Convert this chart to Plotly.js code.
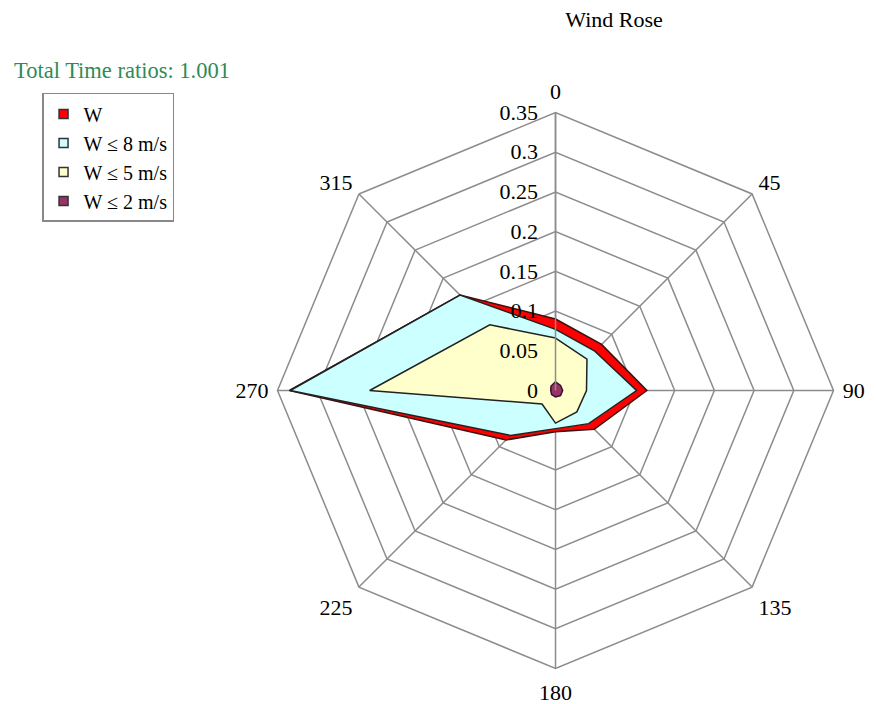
<!DOCTYPE html>
<html>
<head>
<meta charset="utf-8">
<script src="https://cdn.plot.ly/plotly-3.0.1.min.js"></script>
<style>html,body{margin:0;padding:0;background:#fff;}#chart{width:876px;height:704px;}</style>
</head>
<body>
<div id="chart"></div>
<script>
const directions = ['0', '45', '90', '135', '180', '225', '270', '315'];
const radialTicks = [0, 0.05, 0.1, 0.15, 0.2, 0.25, 0.3, 0.35];
const seriesNames = ['W', 'W ≤ 8 m/s', 'W ≤ 5 m/s', 'W ≤ 2 m/s'];
const wAll = [0.090, 0.082, 0.115, 0.069, 0.052, 0.088, 0.335, 0.170];
const wLe8 = [0.077, 0.070, 0.102, 0.059, 0.048, 0.080, 0.334, 0.170];
const wLe5 = [0.066, 0.056, 0.039, 0.038, 0.041, 0.024, 0.234, 0.117];
const wLe2 = [0.011, 0.009, 0.009, 0.009, 0.008, 0.007, 0.006, 0.008];
const totalRatio = '1.001';

const fills = ['#ff0000', '#ccffff', '#ffffcc', '#993366'];
const outlines = ['#3a1010', '#222222', '#222222', '#3a1030'];
const serif = 'Liberation Serif, Times New Roman, serif';

const values = [wAll, wLe8, wLe5, wLe2];
const closed = a => a.concat([a[0]]);
const thetaClosed = closed(directions);

const traces = [];
values.forEach((v, i) => {
  traces.push({
    type: 'scatterpolar', mode: 'lines', r: closed(v), theta: thetaClosed,
    fill: 'toself', fillcolor: fills[i],
    line: {color: outlines[i], width: 1.5},
    name: seriesNames[i], showlegend: false, hoverinfo: 'skip'
  });
});
seriesNames.forEach((n, i) => {
  traces.push({
    type: 'scatterpolar', mode: 'markers', r: [null], theta: [null],
    name: n, showlegend: true,
    marker: {symbol: 'square', size: 9, color: fills[i], line: {color: '#333', width: 1.5}}
  });
});

const layout = {
  width: 876, height: 704,
  margin: {l: 0, r: 0, t: 0, b: 0},
  paper_bgcolor: '#fff',
  font: {family: serif, size: 22, color: '#000'},
  title: {text: 'Wind Rose', font: {family: serif, size: 22, color: '#000'}, x: 0.701, xanchor: 'center', y: 0.972, yanchor: 'middle'},
  showlegend: true,
  legend: {
    x: 0.048, xanchor: 'left', y: 0.868, yanchor: 'top',
    bgcolor: '#fff', bordercolor: '#888', borderwidth: 1.5,
    font: {family: serif, size: 20, color: '#000'},
    itemwidth: 30, tracegroupgap: 0
  },
  annotations: [{
    text: 'Total Time ratios: ' + totalRatio, xref: 'paper', yref: 'paper',
    x: 0.014, xanchor: 'left', y: 0.9, yanchor: 'middle', showarrow: false,
    font: {family: serif, size: 22.5, color: '#2e8b57'}
  }],
  polar: {
    domain: {x: [0.3168, 0.9515], y: [0.0504, 0.8402]},
    gridshape: 'linear', bgcolor: '#fff',
    radialaxis: {
      range: [0, 0.35], tickvals: radialTicks, angle: 90, tickangle: 90,
      side: 'counterclockwise', showline: true, linecolor: '#8c8c8c', linewidth: 1.5,
      gridcolor: '#8c8c8c', gridwidth: 1.5, ticks: 'outside', ticklen: 9, tickcolor: 'rgba(0,0,0,0)',
      tickfont: {family: serif, size: 22, color: '#000'}
    },
    angularaxis: {
      type: 'category', categoryarray: directions, rotation: 90, direction: 'clockwise',
      linecolor: '#8c8c8c', linewidth: 1.5, gridcolor: '#8c8c8c', gridwidth: 1.5,
      ticks: 'outside', ticklen: 4, tickcolor: 'rgba(0,0,0,0)',
      tickfont: {family: serif, size: 22, color: '#000'}
    }
  }
};
Plotly.newPlot('chart', traces, layout, {displayModeBar: false, staticPlot: true});
</script>
</body>
</html>
